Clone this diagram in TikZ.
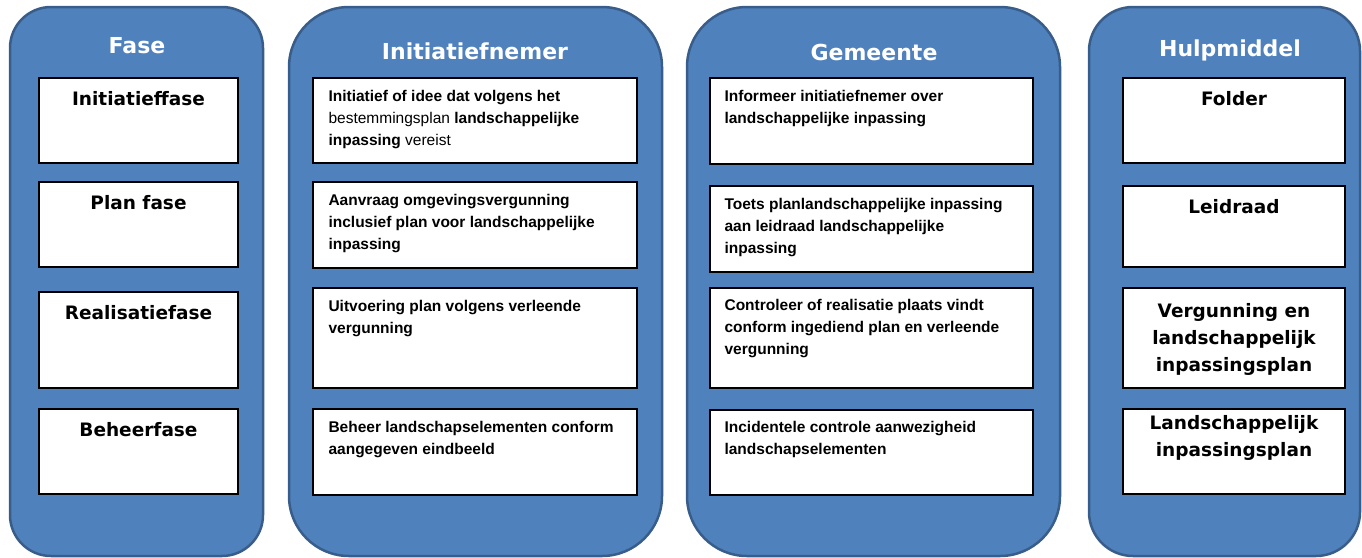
\documentclass[tikz,border=0pt]{standalone}
\usepackage{fontspec}
\setmainfont{Liberation Sans}
\newfontfamily\breed{DejaVu Sans}
\usepackage{tikz}
\usetikzlibrary{positioning}
\definecolor{kolomblauw}{HTML}{4F81BD}
\definecolor{randblauw}{HTML}{385D8A}

\begin{document}
\begin{tikzpicture}[
  x=1pt, y=-1pt,
  kolom/.style={rectangle, fill=kolomblauw, draw=randblauw, line width=2.5pt,
  minimum height=549pt},
  vak/.style={rectangle, fill=white, draw=black, line width=1.3pt},
  titel/.style={font=\breed\bfseries\fontsize{22}{26}\selectfont, text=white,
  inner sep=0pt, anchor=base},
  kop/.style={font=\breed\bfseries\fontsize{18.5}{27}\selectfont, align=center,
  inner sep=0pt},
  tekst/.style={font=\bfseries\fontsize{15.5}{22}\selectfont, align=left,
  inner sep=0pt},
]
\useasboundingbox (0,0) rectangle (1362,557);

\node[kolom, minimum width=253pt, rounded corners=41pt] (fase) at (136.5,281.5) {};
\node[kolom, minimum width=373pt, rounded corners=60pt] (initiatiefnemer) at (475.5,281.5) {};
\node[kolom, minimum width=373pt, rounded corners=60pt] (gemeente) at (873.5,281.5) {};
\node[kolom, minimum width=271pt, rounded corners=44pt] (hulpmiddel) at (1224.5,281.5) {};

\node[titel] (fasetitel) at (137,53) {Fase};
\node[titel] (initiatiefnemertitel) at (475,59) {Initiatiefnemer};
\node[titel] (gemeentetitel) at (874,60) {Gemeente};
\node[titel] (hulpmiddeltitel) at (1230,56) {Hulpmiddel};

\node[vak, minimum width=199pt, minimum height=85pt] (f1) at (138.5,120.5) {};
\node[vak, minimum width=199pt, minimum height=85pt] (f2) at (138.5,224.5) {};
\node[vak, minimum width=199pt, minimum height=96pt] (f3) at (138.5,340) {};
\node[vak, minimum width=199pt, minimum height=85pt] (f4) at (138.5,451.5) {};
\node[kop, below=14pt of f1.north] (f1t) {Initiatieffase};
\node[kop, below=14pt of f2.north] (f2t) {Plan fase};
\node[kop, below=14pt of f3.north] (f3t) {Realisatiefase};
\node[kop, below=14pt of f4.north] (f4t) {Beheerfase};

\node[vak, minimum width=324pt, minimum height=85pt] (i1) at (475,120.5) {};
\node[vak, minimum width=324pt, minimum height=86pt] (i2) at (475,225) {};
\node[vak, minimum width=324pt, minimum height=100pt] (i3) at (475,338) {};
\node[vak, minimum width=324pt, minimum height=86pt] (i4) at (475,452) {};
\node[tekst, below right=13pt and 16pt of i1.north west] (i1t)
  {Initiatief of idee dat volgens het\\
   {\mdseries bestemmingsplan} landschappelijke\\
   inpassing {\mdseries vereist}};
\node[tekst, below right=13pt and 16pt of i2.north west] (i2t)
  {Aanvraag omgevingsvergunning\\ inclusief plan voor landschappelijke\\ inpassing};
\node[tekst, below right=13pt and 16pt of i3.north west] (i3t)
  {Uitvoering plan volgens verleende\\ vergunning};
\node[tekst, below right=13pt and 16pt of i4.north west] (i4t)
  {Beheer landschapselementen conform\\ aangegeven eindbeeld};

\node[vak, minimum width=323pt, minimum height=86pt] (g1) at (871.5,121) {};
\node[vak, minimum width=323pt, minimum height=86pt] (g2) at (871.5,229) {};
\node[vak, minimum width=323pt, minimum height=100pt] (g3) at (871.5,338) {};
\node[vak, minimum width=323pt, minimum height=85pt] (g4) at (871.5,452.5) {};
\node[tekst, below right=13pt and 15pt of g1.north west] (g1t)
  {Informeer initiatiefnemer over\\ landschappelijke inpassing};
\node[tekst, below right=13pt and 15pt of g2.north west] (g2t)
  {Toets planlandschappelijke inpassing\\ aan leidraad landschappelijke\\ inpassing};
\node[tekst, below right=12pt and 15pt of g3.north west] (g3t)
  {Controleer of realisatie plaats vindt\\ conform ingediend plan en verleende\\ vergunning};
\node[tekst, below right=12pt and 15pt of g4.north west] (g4t)
  {Incidentele controle aanwezigheid\\ landschapselementen};

\node[vak, minimum width=222pt, minimum height=85pt] (h1) at (1234,120.5) {};
\node[vak, minimum width=222pt, minimum height=81pt] (h2) at (1234,226.5) {};
\node[vak, minimum width=222pt, minimum height=100pt] (h3) at (1234,338) {};
\node[vak, minimum width=222pt, minimum height=85pt] (h4) at (1234,451.5) {};
\node[kop, below=14pt of h1.north] (h1t) {Folder};
\node[kop, below=14pt of h2.north] (h2t) {Leidraad};
\node[kop, below=16pt of h3.north] (h3t) {Vergunning en\\ landschappelijk\\ inpassingsplan};
\node[kop, below=7pt of h4.north] (h4t) {Landschappelijk\\ inpassingsplan};
\end{tikzpicture}
\end{document}
